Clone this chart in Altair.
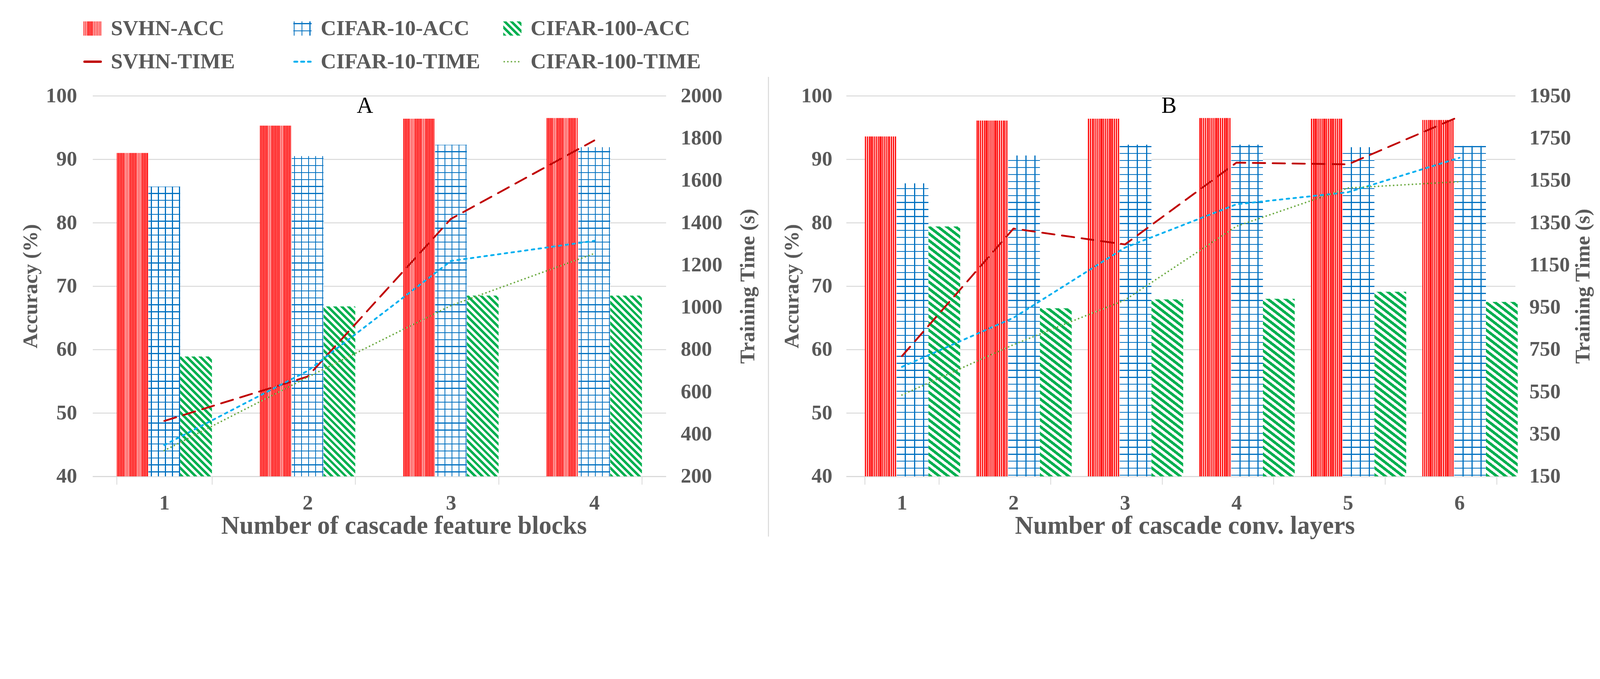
import math
import altair as alt
import pandas as pd

FONT = "Liberation Serif"
GRAY = "#595959"
GRID = "#D9D9D9"
RED = "#FF0000"
BLUE = "#0070C0"
GREEN = "#00B050"
DRED = "#C00000"
LBLUE = "#00B0F0"
LGREEN = "#70AD47"
WHITE = "#FFFFFF"
CLEAR = "rgba(255,255,255,0)"

SERIES_ACC = ["SVHN-ACC", "CIFAR-10-ACC", "CIFAR-100-ACC"]
SERIES_TIME = ["SVHN-TIME", "CIFAR-10-TIME", "CIFAR-100-TIME"]

A_CATS = ["1", "2", "3", "4"]
A_SVHN_ACC = [91.0, 95.3, 96.4, 96.5]
A_C10_ACC = [85.7, 90.5, 92.3, 91.9]
A_C100_ACC = [58.9, 66.8, 68.5, 68.5]
A_SVHN_TIME = [462, 672, 1418, 1789]
A_C10_TIME = [348, 699, 1219, 1314]
A_C100_TIME = [322, 669, 1008, 1254]
A_TIME_TICKS = [200, 400, 600, 800, 1000, 1200, 1400, 1600, 1800, 2000]

B_CATS = ["1", "2", "3", "4", "5", "6"]
B_SVHN_ACC = [93.6, 96.1, 96.4, 96.5, 96.4, 96.2]
B_C10_ACC = [86.2, 90.6, 92.3, 92.3, 91.9, 92.1]
B_C100_ACC = [79.4, 66.5, 67.9, 68.0, 69.1, 67.5]
B_SVHN_TIME = [719, 1322, 1247, 1634, 1626, 1852]
B_C10_TIME = [668, 900, 1232, 1437, 1494, 1657]
B_C100_TIME = [535, 773, 984, 1333, 1514, 1544]
B_TIME_TICKS = [150, 350, 550, 750, 950, 1150, 1350, 1550, 1750, 1950]

ACC_TICKS = [40, 50, 60, 70, 80, 90, 100]

H = 1170
PI = 0.335


def gstops(intervals, on, off):
    stops = [alt.GradientStop(offset=0, color=off)]
    for a, b in intervals:
        a = min(max(a, 0.0), 1.0)
        b = min(max(b, 0.0), 1.0)
        if b <= a:
            continue
        stops += [alt.GradientStop(offset=a, color=off), alt.GradientStop(offset=a, color=on),
                  alt.GradientStop(offset=b, color=on), alt.GradientStop(offset=b, color=off)]
    stops.append(alt.GradientStop(offset=1, color=off))
    return stops


def periodic(length, period, width, start):
    out = []
    p = start
    while p - width / 2 < length:
        out.append(((p - width / 2) / length, (p + width / 2) / length))
        p += period
    return out


def vstripes(w, period, frac, on, off):
    n = max(1, round(w / period))
    iv = [(i / n, (i + frac) / n) for i in range(n)]
    return alt.LinearGradient(gradient="linear", stops=gstops(iv, on, off), x1=0, y1=0, x2=1, y2=0)


def vlines(w, period, lw, start, on, off):
    return alt.LinearGradient(gradient="linear", stops=gstops(periodic(w, period, lw, start), on, off),
                              x1=0, y1=0, x2=1, y2=0)


def hlines(h, period, lw, start, on, off):
    return alt.LinearGradient(gradient="linear", stops=gstops(periodic(h, period, lw, start), on, off),
                              x1=0, y1=1, x2=0, y2=0)


def diag(w, h, period, frac, on, off):
    k = (w + h) / (w * w + h * h)
    n = (w + h) / (period * math.sqrt(2))
    iv = []
    i = 0
    while i / n < 1:
        iv.append((i / n, (i + frac) / n))
        i += 1
    return alt.LinearGradient(gradient="linear", stops=gstops(iv, on, off),
                              x1=0, y1=1, x2=k * w, y2=1 - k * h)


def panel(cats, accs, times, W, tdom, tticks, xtitle, title_dx, letter, letter_x,
          left_tp, right_tp, lab_pad_l, lab_pad_r, c10_start, hl_start, hl_period, sep=False):
    n = len(cats)
    step = W / n
    sub = step * (1 - PI) / 3
    adf = pd.DataFrame({
        "cat": cats * 3,
        "series": sum([[s] * n for s in SERIES_ACC], []),
        "acc": accs[0] + accs[1] + accs[2],
    })
    tdf = pd.DataFrame({
        "cat": cats * 3,
        "series": sum([[s] * n for s in SERIES_TIME], []),
        "time": times[0] + times[1] + times[2],
    })
    xaxis = alt.Axis(
        title=None, labelAngle=0, labelFont=FONT, labelFontSize=64, labelFontWeight="bold",
        labelColor=GRAY, labelPadding=26, tickBand="extent", tickSize=25, tickColor=GRID,
        tickWidth=2.5, domainColor=GRID, domainWidth=3, grid=False,
    )
    xenc = alt.X("cat:N", sort=cats,
                 scale=alt.Scale(domain=cats, paddingInner=PI, paddingOuter=PI / 2), axis=xaxis)
    yaxis_l = alt.Axis(
        values=ACC_TICKS, grid=True, gridColor=GRID, gridWidth=3, domain=False, ticks=False,
        labelFont=FONT, labelFontSize=64, labelFontWeight="bold", labelColor=GRAY,
        labelPadding=lab_pad_l, title="Accuracy (%)", titleFont=FONT, titleFontSize=64,
        titleFontWeight="bold", titleColor=GRAY, titlePadding=left_tp,
    )
    yaxis_r = alt.Axis(
        orient="right", values=tticks, format="d", grid=False, domain=False, ticks=False,
        labelFont=FONT, labelFontSize=64, labelFontWeight="bold", labelColor=GRAY,
        labelPadding=lab_pad_r, title="Training Time (s)", titleFont=FONT, titleFontSize=64,
        titleFontWeight="bold", titleColor=GRAY, titlePadding=right_tp,
        titleAngle=270, titleBaseline="bottom",
    )
    xoff = alt.XOffset("series:N", scale=alt.Scale(domain=SERIES_ACC, paddingInner=0, paddingOuter=0))
    yenc = alt.Y("acc:Q", scale=alt.Scale(domain=[40, 100], nice=False, zero=False), axis=yaxis_l)
    base = alt.Chart(adf).encode(x=xenc, xOffset=xoff, y=yenc, y2=alt.datum(40))

    bars = []
    bars.append(base.transform_filter(alt.datum.series == "SVHN-ACC")
                .mark_bar(fill=vstripes(sub, 4.6, 0.66, RED, WHITE), strokeWidth=0))
    bars.append(base.transform_filter(alt.datum.series == "CIFAR-10-ACC")
                .mark_bar(fill=vlines(sub, 21.6, 2.8, c10_start, BLUE, WHITE), strokeWidth=0))
    for i, c in enumerate(cats):
        h = (accs[1][i] - 40) / 60 * H
        bars.append(base.transform_filter((alt.datum.series == "CIFAR-10-ACC") & (alt.datum.cat == c))
                    .mark_bar(fill=hlines(h, hl_period, 2.8, hl_start, BLUE, CLEAR), strokeWidth=0))
    for i, c in enumerate(cats):
        h = (accs[2][i] - 40) / 60 * H
        bars.append(base.transform_filter((alt.datum.series == "CIFAR-100-ACC") & (alt.datum.cat == c))
                    .mark_bar(fill=diag(sub, h, 15, 0.5, GREEN, WHITE), strokeWidth=0))

    tenc = alt.Y("time:Q", scale=alt.Scale(domain=tdom, nice=False, zero=False), axis=yaxis_r)
    tbase = alt.Chart(tdf).encode(x=xenc, y=tenc)
    lines = [
        tbase.transform_filter(alt.datum.series == "SVHN-TIME")
        .mark_line(color=DRED, strokeWidth=5.5, strokeDash=[38, 23], strokeCap="round"),
        tbase.transform_filter(alt.datum.series == "CIFAR-10-TIME")
        .mark_line(color=LBLUE, strokeWidth=5.5, strokeDash=[8, 13], strokeCap="round"),
        tbase.transform_filter(alt.datum.series == "CIFAR-100-TIME")
        .mark_line(color=LGREEN, strokeWidth=5, strokeDash=[0.1, 11.5], strokeCap="round"),
    ]
    one = pd.DataFrame({"t": [letter], "xt": [xtitle]})
    extras = [
        alt.Chart(one).mark_text(font=FONT, fontSize=70, color="black", align="center",
                                 baseline="alphabetic")
        .encode(x=alt.value(letter_x), y=alt.value(52), text="t:N"),
        alt.Chart(one).mark_text(font=FONT, fontSize=78, fontWeight="bold", color=GRAY,
                                 align="center", baseline="alphabetic")
        .encode(x=alt.value(W / 2 + title_dx), y=alt.value(H + 176), text="xt:N"),
    ]
    if sep:
        extras.append(alt.Chart(one).mark_rule(color=GRID, strokeWidth=3)
                      .encode(x=alt.value(W + 315), y=alt.value(-58), y2=alt.value(1355)))
    return (alt.layer(alt.layer(*bars), alt.layer(*lines, *extras))
            .resolve_scale(y="independent")
            .properties(width=W, height=H))


WA = 1762
WB = 2056
panelA = panel(A_CATS, [A_SVHN_ACC, A_C10_ACC, A_C100_ACC], [A_SVHN_TIME, A_C10_TIME, A_C100_TIME],
               WA, [200, 2000], A_TIME_TICKS, "Number of cascade feature blocks", 76, "A", 837,
               14, 111, 48, 45, 9, 14, 21.4, sep=True)
panelB = panel(B_CATS, [B_SVHN_ACC, B_C10_ACC, B_C100_ACC], [B_SVHN_TIME, B_C10_TIME, B_C100_TIME],
               WB, [150, 1950], B_TIME_TICKS, "Number of cascade conv. layers", 13, "B", 992,
               -5, 70, 43, 43, 21, 3.5, 21.5)

LEG_LABELS = SERIES_ACC + SERIES_TIME
LEG_COL = [0, 1, 2, 0, 1, 2]
LEG_ROW = [0, 0, 0, 1, 1, 1]
LW = 1290
LH = 102
leg = pd.DataFrame({"label": LEG_LABELS, "col": LEG_COL, "row": LEG_ROW})
ux = 2 / LW
uy = 1 / LH
lbase = alt.Chart(leg).transform_calculate(
    x0=f"datum.col - {28 * ux}", x1=f"datum.col + {28 * ux}",
    y0=f"datum.row - {22 * uy}", y1=f"datum.row + {22 * uy}",
    lx0=f"datum.col - {25 * ux}", lx1=f"datum.col + {25 * ux}",
)
lxs = alt.Scale(domain=[0, 2])
lys = alt.Scale(domain=[0, 1], reverse=True)
rect_enc = dict(x=alt.X("x0:Q", scale=lxs, axis=None), x2="x1:Q",
                y=alt.Y("y0:Q", scale=lys, axis=None), y2="y1:Q")
rule_enc = dict(x=alt.X("lx0:Q", scale=lxs, axis=None), x2="lx1:Q",
                y=alt.Y("row:Q", scale=lys, axis=None))
leg_layers = [
    lbase.transform_filter(alt.datum.label == "SVHN-ACC")
    .mark_rect(fill=vstripes(56, 4.6, 0.62, RED, WHITE), strokeWidth=0).encode(**rect_enc),
    lbase.transform_filter(alt.datum.label == "CIFAR-10-ACC")
    .mark_rect(fill=vlines(56, 24.5, 2.8, 2, BLUE, WHITE), strokeWidth=0).encode(**rect_enc),
    lbase.transform_filter(alt.datum.label == "CIFAR-10-ACC")
    .mark_rect(fill=hlines(44, 22, 2.8, 15, BLUE, CLEAR), strokeWidth=0).encode(**rect_enc),
    lbase.transform_filter(alt.datum.label == "CIFAR-100-ACC")
    .mark_rect(fill=diag(56, 44, 15, 0.5, GREEN, WHITE), strokeWidth=0).encode(**rect_enc),
    lbase.transform_filter(alt.datum.label == "SVHN-TIME")
    .mark_rule(color=DRED, strokeWidth=7, strokeCap="round").encode(**rule_enc),
    lbase.transform_filter(alt.datum.label == "CIFAR-10-TIME")
    .mark_rule(color=LBLUE, strokeWidth=6, strokeDash=[9, 12], strokeCap="round").encode(**rule_enc),
    lbase.transform_filter(alt.datum.label == "CIFAR-100-TIME")
    .mark_rule(color=LGREEN, strokeWidth=5, strokeDash=[0.1, 11], strokeCap="round").encode(**rule_enc),
    lbase.mark_text(align="left", baseline="middle", dx=56, font=FONT, fontSize=66,
                    fontWeight="bold", color=GRAY)
    .encode(x=alt.X("col:Q", scale=lxs, axis=None), y=alt.Y("row:Q", scale=lys, axis=None), text="label:N"),
]
legend = alt.layer(*leg_layers).properties(width=LW, height=LH)

panels = alt.hconcat(panelA, panelB, spacing=554, bounds="flush")
chart = (
    alt.vconcat(legend, panels, spacing=105, bounds="flush")
    .properties(padding={"left": 53, "top": -95, "right": 10, "bottom": -110})
    .configure(font=FONT)
    .configure_view(stroke=None)
)
chart.save("out.html", embed_options={"renderer": "svg", "actions": False})
